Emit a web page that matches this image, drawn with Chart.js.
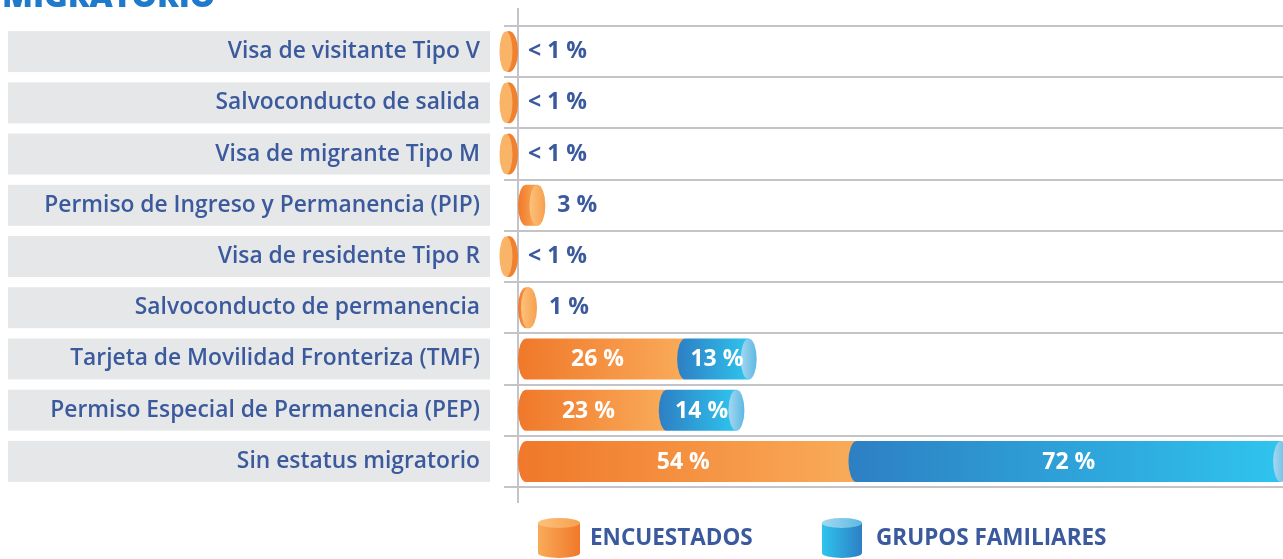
<!DOCTYPE html>
<html>
<head>
<meta charset="utf-8">
<script src="https://cdn.jsdelivr.net/npm/chart.js@4.4.0/dist/chart.umd.min.js"></script>
<style>
  html, body { margin: 0; padding: 0; background: #fff; }
  #wrap { width: 1283px; height: 559px; position: relative; overflow: hidden; }
</style>
</head>
<body>
<div id="wrap"><canvas id="statusChart" width="1283" height="559"></canvas></div>
<script>
// Estatus migratorio - encuestados vs grupos familiares

const categories = [
    'Visa de visitante Tipo V',
    'Salvoconducto de salida',
    'Visa de migrante Tipo M',
    'Permiso de Ingreso y Permanencia (PIP)',
    'Visa de residente Tipo R',
    'Salvoconducto de permanencia',
    'Tarjeta de Movilidad Fronteriza (TMF)',
    'Permiso Especial de Permanencia (PEP)',
    'Sin estatus migratorio'
];
// "< 1 %" rows kept as 0.5
const encuestados = [0.5, 0.5, 0.5, 3, 0.5, 1, 26, 23, 54];
const gruposFamiliares = [0, 0, 0, 0, 0, 0, 13, 14, 72];
const seriesNames = ['ENCUESTADOS', 'GRUPOS FAMILIARES'];
const titleText = 'MIGRATORIO';

const BLUE_TEXT = '#3b5a9d';
const GRID = '#c4c4c8';
const FONT = "'Open Sans', sans-serif";
const RX = 8;

const palette = {
    orange: { body: ['#f0782a', '#f9ab59'], cap: ['#fcc27c', '#f7a04d'] },
    blue: { body: ['#2d7fc3', '#2fc4ee'], cap: ['#a5d7f0', '#5cb9e3'] }
};

function fmt(v) {
    return v < 1 ? '< 1 %' : v + ' %';
}

function grad(ctx, x0, x1, stops) {
    const g = ctx.createLinearGradient(x0, 0, x1, 0);
    g.addColorStop(0, stops[0]);
    g.addColorStop(1, stops[1]);
    return g;
}

// body of a horizontal cylinder, rounded on the left
function drawBody(ctx, left, bodyRight, yc, h, stops) {
    const ry = h / 2;
    ctx.beginPath();
    ctx.ellipse(left + RX, yc, RX, ry, 0, Math.PI / 2, Math.PI * 1.5);
    ctx.lineTo(bodyRight, yc - ry);
    ctx.lineTo(bodyRight, yc + ry);
    ctx.closePath();
    ctx.fillStyle = grad(ctx, left, bodyRight, stops);
    ctx.fill();
}

function drawCap(ctx, cx, yc, h, stops) {
    ctx.beginPath();
    ctx.ellipse(cx, yc, RX, h / 2, 0, 0, Math.PI * 2);
    ctx.fillStyle = grad(ctx, cx - RX, cx + RX, stops);
    ctx.fill();
}

// tiny value: a flat disc sitting just left of the axis
function drawDisc(ctx, cx, yc, h) {
    ctx.beginPath();
    ctx.ellipse(cx, yc, 9, h / 2, 0, 0, Math.PI * 2);
    ctx.fillStyle = '#f0812f';
    ctx.fill();
    ctx.beginPath();
    ctx.ellipse(cx - 3, yc, 6.5, h / 2 - 0.5, 0, 0, Math.PI * 2);
    ctx.fillStyle = '#fab468';
    ctx.fill();
}

function legendIcon(ctx, x, y, w, h, p) {
    const ry = 5;
    ctx.beginPath();
    ctx.moveTo(x, y + ry);
    ctx.lineTo(x, y + h - ry);
    ctx.ellipse(x + w / 2, y + h - ry, w / 2, ry, 0, Math.PI, 0, true);
    ctx.lineTo(x + w, y + ry);
    ctx.closePath();
    ctx.fillStyle = grad(ctx, x, x + w, [p.body[1], p.body[0]]);
    ctx.fill();
    ctx.beginPath();
    ctx.ellipse(x + w / 2, y + ry, w / 2, ry, 0, 0, Math.PI * 2);
    ctx.fillStyle = grad(ctx, x, x + w, p.cap);
    ctx.fill();
}

const cylinderPlugin = {
    id: 'cylinders',
    beforeDraw(chart) {
        const ctx = chart.ctx;
        const yScale = chart.scales.y;
        ctx.save();
        // label boxes
        ctx.fillStyle = '#e6e7e8';
        categories.forEach((c, i) => {
            const y = yScale.getPixelForTick(i);
            ctx.fillRect(8, y - 20.5, 482, 41);
        });
        // cut-off title
        ctx.fillStyle = '#1f7acb';
        ctx.font = '800 32px ' + FONT;
        ctx.textBaseline = 'alphabetic';
        ctx.fillText(titleText, 2, 7);
        ctx.restore();
    },
    beforeDatasetsDraw(chart) {
        const ctx = chart.ctx;
        const x = chart.chartArea.left;
        ctx.save();
        ctx.strokeStyle = GRID;
        ctx.lineWidth = 2;
        ctx.beginPath();
        ctx.moveTo(x, 8);
        ctx.lineTo(x, 503);
        ctx.stroke();
        ctx.restore();
    },
    afterDatasetsDraw(chart) {
        const ctx = chart.ctx;
        const m0 = chart.getDatasetMeta(0).data;
        const m1 = chart.getDatasetMeta(1).data;
        ctx.save();
        ctx.font = 'bold 23px ' + FONT;
        ctx.textBaseline = 'middle';
        categories.forEach((c, i) => {
            const a = m0[i].getProps(['x', 'y', 'base', 'height'], true);
            const b = m1[i].getProps(['x', 'y', 'base', 'height'], true);
            const h = a.height;
            const yc = a.y;
            const hasBlue = gruposFamiliares[i] > 0;
            if (encuestados[i] < 1) {
                drawDisc(ctx, a.base - 9, yc, h);
                ctx.fillStyle = BLUE_TEXT;
                ctx.textAlign = 'left';
                ctx.fillText(fmt(encuestados[i]), a.base + 10, yc);
                return;
            }
            if (hasBlue) {
                drawBody(ctx, a.base, a.x + RX, yc, h, palette.orange.body);
                drawBody(ctx, b.base, b.x - RX, yc, h, palette.blue.body);
                drawCap(ctx, b.x - RX, yc, h, palette.blue.cap);
                ctx.fillStyle = '#ffffff';
                ctx.textAlign = 'center';
                ctx.fillText(fmt(encuestados[i]), (a.base + a.x) / 2, yc + 1);
                ctx.fillText(fmt(gruposFamiliares[i]), (b.base + b.x) / 2, yc + 1);
            } else {
                // short bars: body plus the end cap past the value
                const right = Math.max(a.x + RX + 1, a.base + 2 * RX + 3);
                drawBody(ctx, a.base, right - RX, yc, h, palette.orange.body);
                drawCap(ctx, right - RX, yc, h, palette.orange.cap);
                ctx.fillStyle = BLUE_TEXT;
                ctx.textAlign = 'left';
                ctx.fillText(fmt(encuestados[i]), right + 12, yc);
            }
        });
        ctx.restore();
    },
    afterDraw(chart) {
        const ctx = chart.ctx;
        ctx.save();
        legendIcon(ctx, 538, 518, 42, 40, palette.orange);
        legendIcon(ctx, 822, 518, 40, 40, palette.blue);
        ctx.fillStyle = BLUE_TEXT;
        ctx.font = 'bold 22.5px ' + FONT;
        ctx.textBaseline = 'middle';
        ctx.textAlign = 'left';
        ctx.fillText(seriesNames[0], 590, 539);
        ctx.fillText(seriesNames[1], 876, 539);
        ctx.restore();
    }
};

new Chart(document.getElementById('statusChart'), {
    type: 'bar',
    data: {
        labels: categories,
        datasets: [{
            label: seriesNames[0],
            data: encuestados,
            backgroundColor: 'rgba(0,0,0,0)',
            borderWidth: 0,
            barThickness: 41
        }, {
            label: seriesNames[1],
            data: gruposFamiliares,
            backgroundColor: 'rgba(0,0,0,0)',
            borderWidth: 0,
            barThickness: 41
        }]
    },
    options: {
        indexAxis: 'y',
        responsive: false,
        animation: false,
        layout: {
            padding: { top: 26, bottom: 72, left: 8, right: 0 }
        },
        plugins: {
            legend: { display: false },
            title: { display: false },
            tooltip: { enabled: false }
        },
        scales: {
            x: {
                stacked: true,
                display: false,
                min: 0,
                max: 125
            },
            y: {
                stacked: true,
                afterFit: function(scale) {
                    scale.width = 510;
                    scale.paddingTop = 0;
                    scale.paddingBottom = 0;
                },
                border: { display: false },
                grid: {
                    offset: true,
                    tickLength: 14,
                    lineWidth: 2,
                    color: function(ctx) {
                        return ctx.index >= categories.length ? 'rgba(0,0,0,0)' : GRID;
                    }
                },
                ticks: {
                    padding: 24,
                    color: BLUE_TEXT,
                    font: { family: FONT, size: 22.8, weight: '600' }
                }
            }
        }
    },
    plugins: [cylinderPlugin]
});
</script>
</body>
</html>
